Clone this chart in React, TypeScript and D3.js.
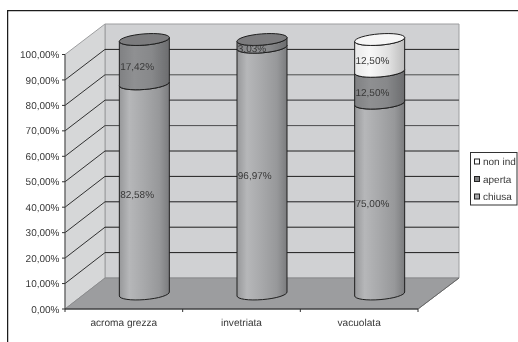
import React from "react";
import * as d3 from "d3";

const categories = ["acroma grezza", "invetriata", "vacuolata"];
const seriesNames = ["chiusa", "aperta", "non ind"];
const chiusa = [82.58, 96.97, 75.0];
const aperta = [17.42, 3.03, 12.5];
const nonInd = [0, 0, 12.5];
const yTicks = [0, 10, 20, 30, 40, 50, 60, 70, 80, 90, 100];

const fmt = (v: number) => v.toFixed(2).replace(".", ",") + "%";

const yFront = d3.scaleLinear().domain([0, 100]).range([309, 54.5]);
const yBack = d3.scaleLinear().domain([0, 100]).range([278, 24]);
const yCyl = d3.scaleLinear().domain([0, 100]).range([294, 39.5]);
const xFront = d3.scaleBand<string>().domain(categories).range([65, 418]);
const xCyl = d3.scaleBand<string>().domain(categories).range([85.5, 438.5]);

const backL = 105, backR = 459;
const RX = 25, RY = 5.6, TILT = 4;
const ROT = -4.6;

const fills: Record<string, string> = { chiusa: "url(#gC)", aperta: "url(#gA)", "non ind": "url(#gN)" };
const topFills: Record<string, string> = { chiusa: "#a3a4a6", aperta: "#7b7c7e", "non ind": "#f6f6f6" };
const swatch: Record<string, string> = { chiusa: "#a8a9ab", aperta: "#808183", "non ind": "#ffffff" };
const textCol = "#383838";

function segPath(cx: number, y0: number, y1: number) {
  const L = cx - RX, R = cx + RX;
  return `M${L},${y1 + TILT / 2} L${L},${y0 + TILT / 2} A${RX},${RY} ${ROT} 0 0 ${R},${y0 - TILT / 2} L${R},${y1 - TILT / 2} A${RX},${RY} ${ROT} 0 1 ${L},${y1 + TILT / 2} Z`;
}
function topPath(cx: number, y: number) {
  const L = cx - RX, R = cx + RX;
  return `M${L},${y + TILT / 2} A${RX},${RY} ${ROT} 1 1 ${R},${y - TILT / 2} A${RX},${RY} ${ROT} 1 1 ${L},${y + TILT / 2} Z`;
}

function Grad({ id, stops }: { id: string; stops: [number, string][] }) {
  return (
    <linearGradient id={id} x1="0" x2="1" y1="0" y2="0">
      {stops.map(([o, c]) => <stop key={o} offset={o} stopColor={c} />)}
    </linearGradient>
  );
}

export default function App() {
  const stacks = d3.stack<number>()
    .keys(seriesNames)
    .value((i, k) => (k === "chiusa" ? chiusa : k === "aperta" ? aperta : nonInd)[i])(categories.map((_, i) => i));

  return (
    <svg width={518} height={342} style={{ position: "fixed", left: 0, top: 0, background: "#fff" }} fontFamily="'Liberation Sans', Arial, sans-serif" textRendering="geometricPrecision">
      <defs>
        <Grad id="gC" stops={[[0, "#97989a"], [0.2, "#b6b7b9"], [0.5, "#a7a8aa"], [0.8, "#97989a"], [1, "#7b7c7e"]]} />
        <Grad id="gA" stops={[[0, "#808183"], [0.3, "#8f9092"], [0.65, "#87888a"], [1, "#6c6d6f"]]} />
        <Grad id="gN" stops={[[0, "#e9e9e9"], [0.3, "#f8f8f8"], [0.7, "#dfdfdf"], [1, "#bcbcbc"]]} />
        <filter id="soft" x="0" y="0" width="100%" height="100%">
          <feGaussianBlur stdDeviation="0.35" />
        </filter>
      </defs>
      <g filter="url(#soft)">
        <path d="M7.5,342 V10.5 H518" fill="none" stroke="#1c1c1c" strokeWidth={1.5} />
        {/* walls and floor */}
        <polygon points={`${backL},${yBack(100)} ${backR},${yBack(100)} ${backR},${yBack(0)} ${backL},${yBack(0)}`} fill="#d0d1d3" stroke="#9c9d9f" />
        <polygon points={`65,${yFront(100)} ${backL},${yBack(100)} ${backL},${yBack(0)} 65,${yFront(0)}`} fill="#d6d7d8" stroke="#9c9d9f" />
        <polygon points={`65,${yFront(0)} ${backL},${yBack(0)} ${backR},${yBack(0)} 418,${yFront(0)}`} fill="#9c9d9f" stroke="#8a8b8d" />
        {/* gridlines */}
        {yTicks.filter((t) => t > 0 && t < 100).map((t) => (
          <g key={t}>
            <line x1={65} y1={yFront(t)} x2={backL} y2={yBack(t)} stroke="#1e1e1e" strokeWidth={0.9} />
            <line x1={backL} y1={yBack(t)} x2={backR} y2={yBack(t)} stroke={t === 70 || t === 60 || t === 80 ? "#4c4d4e" : "#1e1e1e"} strokeWidth={t === 70 ? 1.3 : 1} />
          </g>
        ))}
        {/* axes */}
        <line x1={65} y1={yFront(100)} x2={65} y2={yFront(0)} stroke="#555" />
        <line x1={65} y1={yFront(0)} x2={418} y2={yFront(0)} stroke="#1e1e1e" strokeWidth={1.2} />
        <line x1={418} y1={yFront(0)} x2={backR} y2={yBack(0)} stroke="#666" />
        {yTicks.map((t) => (
          <g key={t}>
            <line x1={62} y1={yFront(t)} x2={65} y2={yFront(t)} stroke="#333" />
            <text x={59.5} y={yFront(t)} dy="0.36em" textAnchor="end" fontSize={10} fill={textCol}>{fmt(t)}</text>
          </g>
        ))}
        {[...categories.map((c) => xFront(c)!), 418].map((x) => (
          <line key={x} x1={x} y1={309} x2={x} y2={312} stroke="#333" />
        ))}
        {categories.map((c) => (
          <text key={c} x={xFront(c)! + xFront.bandwidth() / 2} y={322} dy="0.36em" textAnchor="middle" fontSize={10.1} fill={textCol}>{c}</text>
        ))}
        {/* cylinders */}
        {categories.map((c, i) => {
          const cx = xCyl(c)! + xCyl.bandwidth() / 2;
          const visible = stacks.filter((s) => s[i][1] - s[i][0] > 0);
          const last = visible[visible.length - 1];
          return (
            <g key={c}>
              {visible.map((s) => (
                <path key={s.key} d={segPath(cx, yCyl(s[i][0]), yCyl(s[i][1]))} fill={fills[s.key]} stroke="#1f1f1f" strokeWidth={1} />
              ))}
              <path d={topPath(cx, yCyl(last[i][1]))} fill={topFills[last.key]} stroke="#1f1f1f" strokeWidth={1} />
              {visible.map((s) => (
                <text key={s.key} x={cx - RX + 0.8} y={(yCyl(s[i][0]) + yCyl(s[i][1])) / 2 + 5} dy="0.36em" fontSize={10} fill={textCol}>{fmt(s[i][1] - s[i][0])}</text>
              ))}
            </g>
          );
        })}
        {/* legend */}
        <rect x={470.5} y={152.5} width={46.5} height={52.5} fill="#fff" stroke="#333" />
        {[...seriesNames].reverse().map((n, i) => {
          const y = d3.scaleLinear().domain([0, 1]).range([161.5, 179])(i);
          return (
            <g key={n}>
              <rect x={474.5} y={y - 2.5} width={5} height={5} fill={swatch[n]} stroke="#222" />
              <text x={483} y={y} dy="0.36em" fontSize={10} fill={textCol}>{n}</text>
            </g>
          );
        })}
      </g>
    </svg>
  );
}
